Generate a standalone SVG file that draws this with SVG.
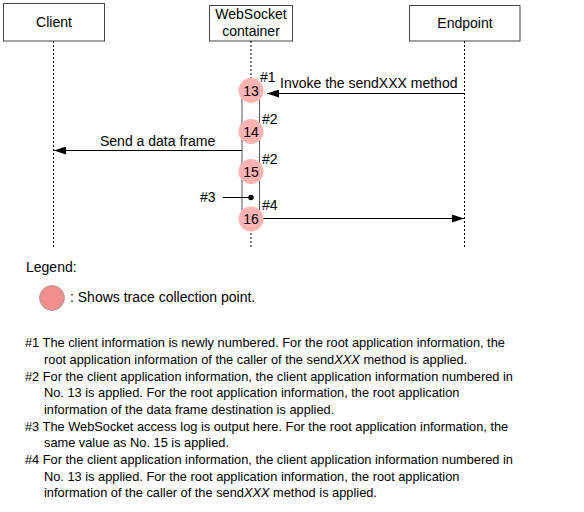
<svg xmlns="http://www.w3.org/2000/svg" width="584" height="512" viewBox="0 0 584 512">
<style>
text{font-family:"Liberation Sans",Arial,sans-serif;font-size:14px;fill:#000}
.box{fill:#fff;stroke:#444;stroke-width:1}
.life{stroke:#000;stroke-width:1;stroke-dasharray:2,2;fill:none}
.tp{fill:#ffb3b3}
.msg{stroke:#000;stroke-width:1;fill:none}
.note{font-size:12.8px}
</style>
<defs>
<marker id="ah" markerWidth="12" markerHeight="8" refX="12" refY="4" orient="auto" markerUnits="userSpaceOnUse">
<path d="M0,0 L12,4 L0,8 Z" fill="#000"/>
</marker>
</defs>
<g id="client">
<rect class="box" x="3.5" y="3.5" width="101" height="37.5"/>
<text x="54" y="27" text-anchor="middle">Client</text>
</g>
<g id="container">
<rect class="box" x="209.5" y="5.5" width="83" height="35.5"/>
<text x="251" y="19" text-anchor="middle">WebSocket</text>
<text x="251" y="36" text-anchor="middle">container</text>
</g>
<g id="endpoint">
<rect class="box" x="409.5" y="5.5" width="110.5" height="35.5"/>
<text x="465" y="28" text-anchor="middle">Endpoint</text>
</g>
<g id="lifelines">
<line class="life" x1="53.5" y1="41" x2="53.5" y2="247"/>
<line class="life" x1="251" y1="41" x2="251" y2="247"/>
<line class="life" x1="464.5" y1="41" x2="464.5" y2="247"/>
</g>
<g id="activation">
<rect x="242" y="96" width="17.5" height="120" fill="#fff" stroke="#555" stroke-width="1"/>
</g>
<g id="connectors">
<line class="msg" x1="464.5" y1="93.5" x2="267" y2="93.5" marker-end="url(#ah)"/>
<line class="msg" x1="242" y1="150.5" x2="54" y2="150.5" marker-end="url(#ah)"/>
<line class="msg" x1="263" y1="218.5" x2="464" y2="218.5" marker-end="url(#ah)"/>
<line class="msg" x1="223" y1="197.5" x2="251" y2="197.5"/>
<circle cx="251" cy="197.5" r="2.7" fill="#000"/>
</g>
<g id="p13"><circle class="tp" cx="251" cy="90.5" r="12.5"/><text x="251" y="95.5" text-anchor="middle">13</text></g>
<g id="p14"><circle class="tp" cx="251" cy="131.5" r="12.5"/><text x="251" y="136.5" text-anchor="middle">14</text></g>
<g id="p15"><circle class="tp" cx="251" cy="171.5" r="12.5"/><text x="251" y="176.5" text-anchor="middle">15</text></g>
<g id="p16"><circle class="tp" cx="251" cy="219" r="12.5"/><text x="251" y="224" text-anchor="middle">16</text></g>
<g id="labels">
<text x="260" y="82">#1</text>
<text x="280" y="88">Invoke the sendXXX method</text>
<text x="100" y="146">Send a data frame</text>
<text x="262" y="124">#2</text>
<text x="262" y="164">#2</text>
<text x="200" y="202">#3</text>
<text x="262" y="210">#4</text>
</g>
<g id="legend">
<text x="26" y="272">Legend:</text>
<circle cx="52" cy="298" r="12.5" fill="#f28f8f" stroke="#999" stroke-width="0.8"/>
<text x="70" y="302">: Shows trace collection point.</text>
</g>
<g id="notes">
<text class="note" x="25" y="347">#1 The client information is newly numbered. For the root application information, the</text>
<text class="note" x="44" y="364">root application information of the caller of the send<tspan font-style="italic">XXX</tspan> method is applied.</text>
<text class="note" x="25" y="381">#2 For the client application information, the client application information numbered in</text>
<text class="note" x="44" y="397">No. 13 is applied. For the root application information, the root application</text>
<text class="note" x="44" y="414">information of the data frame destination is applied.</text>
<text class="note" x="25" y="431">#3 The WebSocket access log is output here. For the root application information, the</text>
<text class="note" x="44" y="447">same value as No. 15 is applied.</text>
<text class="note" x="25" y="464">#4 For the client application information, the client application information numbered in</text>
<text class="note" x="44" y="481">No. 13 is applied. For the root application information, the root application</text>
<text class="note" x="44" y="497">information of the caller of the send<tspan font-style="italic">XXX</tspan> method is applied.</text>
</g>
</svg>
